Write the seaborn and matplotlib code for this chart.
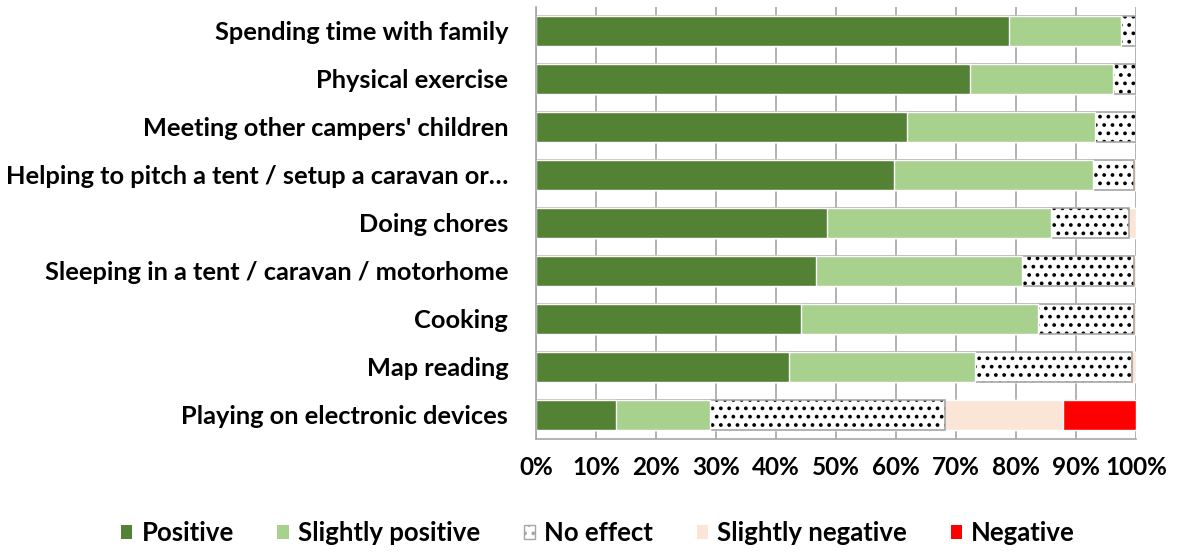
import matplotlib
matplotlib.use("Agg")
import matplotlib.pyplot as plt
import matplotlib.patches as mpatches
import seaborn as sns
import numpy as np
import pandas as pd

categories = [
    "Spending time with family",
    "Physical exercise",
    "Meeting other campers' children",
    "Helping to pitch a tent / setup a caravan or\u2026",
    "Doing chores",
    "Sleeping in a tent / caravan / motorhome",
    "Cooking",
    "Map reading",
    "Playing on electronic devices",
]
series_names = ["Positive", "Slightly positive", "No effect", "Slightly negative", "Negative"]
positive = [78.8, 72.4, 61.8, 59.6, 48.5, 46.7, 44.1, 42.2, 13.3]
slightly_positive = [18.7, 23.7, 31.3, 33.3, 37.4, 34.3, 39.5, 30.9, 15.7]
no_effect = [2.5, 3.9, 6.9, 6.8, 13.0, 18.6, 16.1, 26.2, 39.1]
slightly_negative = [0.0, 0.0, 0.0, 0.3, 1.1, 0.4, 0.3, 0.7, 19.7]
negative = [0.0, 0.0, 0.0, 0.0, 0.0, 0.0, 0.0, 0.0, 12.2]
tick_values = [0, 10, 20, 30, 40, 50, 60, 70, 80, 90, 100]
tick_labels = [f"{v}%" for v in tick_values]

colors = ["#548235", "#A9D18E", "#FFFFFF", "#FBE5D6", "#FF0000"]

sns.set_theme(style="white")
FONT = "Lato"
plt.rcParams["font.family"] = [FONT, "DejaVu Sans"]
plt.rcParams["hatch.linewidth"] = 1.5
plt.rcParams["hatch.color"] = "black"
plt.rcParams["text.color"] = "black"
plt.rcParams["xtick.color"] = "black"
plt.rcParams["ytick.color"] = "black"

df = pd.DataFrame({
    "category": categories,
    "Positive": positive,
    "Slightly positive": slightly_positive,
    "No effect": no_effect,
    "Slightly negative": slightly_negative,
    "Negative": negative,
})
cum = df[series_names].cumsum(axis=1)
cum["category"] = categories

fig = plt.figure(figsize=(11.79, 5.52), dpi=100)
ax = fig.add_axes([536 / 1179, 1 - 439 / 552, 600 / 1179, 432 / 552])

bar_w = 0.62
# draw from the outermost cumulative series inward so inner segments cover outer
for i in range(len(series_names) - 1, -1, -1):
    name = series_names[i]
    if name == "No effect":
        sns.barplot(data=cum, x=name, y="category",
                    orient="h", color="white", width=bar_w, ax=ax,
                    hatch="..", edgecolor="black", linewidth=0, saturation=1)
        sns.barplot(data=cum, x=name, y="category",
                    orient="h", fill=False, width=bar_w, ax=ax,
                    edgecolor="#A6A6A6", linewidth=1.2)
    else:
        sns.barplot(data=cum, x=name, y="category",
                    orient="h", color=colors[i], width=bar_w, ax=ax,
                    edgecolor="white", linewidth=1.0, saturation=1)

ax.set_xlim(0, 100)
ax.set_ylim(len(categories) - 0.5, -0.5)
ax.set_xticks(tick_values)
ax.set_xticklabels(tick_labels, fontsize=17.5, fontweight="bold")
ax.set_yticklabels(categories, fontsize=18.3, fontweight="bold")
ax.set_xlabel("")
ax.set_ylabel("")
ax.tick_params(axis="both", length=0)
ax.tick_params(axis="x", pad=12)
ax.tick_params(axis="y", pad=20)
ax.xaxis.grid(True, color="#A6A6A6", linewidth=1.2)
ax.set_axisbelow(True)
for s in ["top", "right"]:
    ax.spines[s].set_visible(False)
for s in ["left", "bottom"]:
    ax.spines[s].set_color("#A6A6A6")
    ax.spines[s].set_linewidth(1.2)

handles = []
for i, name in enumerate(series_names):
    if name == "No effect":
        h = mpatches.Patch(facecolor="white", edgecolor="#A6A6A6", hatch="..", label=name)
    else:
        h = mpatches.Patch(facecolor=colors[i], edgecolor="none", label=name)
    handles.append(h)
fig.legend(handles=handles, loc="center", bbox_to_anchor=(598 / 1179, 1 - 533 / 552),
           ncol=5, frameon=False, prop={"family": FONT, "weight": "bold", "size": 18.5},
           handlelength=0.45, handleheight=0.45, handletextpad=0.35, columnspacing=1.7)

fig.savefig("out.png", dpi=100)
